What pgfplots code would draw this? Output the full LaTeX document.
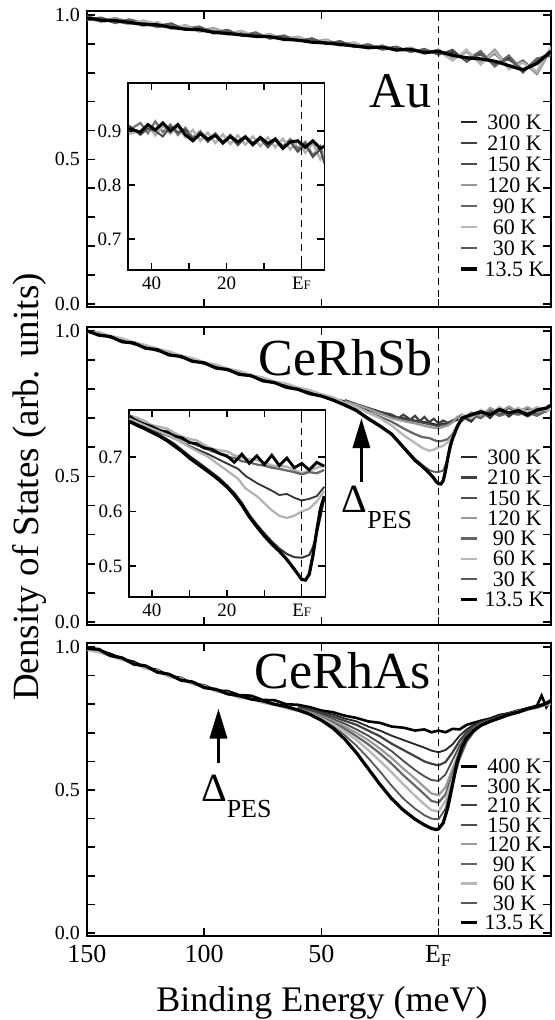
\documentclass[border=0pt]{standalone}
\usepackage{fontspec}
\setmainfont{Liberation Serif}
\usepackage{pgfplots}
\usepackage{pgfplotstable}
\pgfplotsset{compat=1.18}
\usetikzlibrary{arrows.meta}

% Au, main panel: x, 300K 210K 150K 120K 90K 60K 30K 13.5K
\pgfplotstableread{
x a b c d e f g h
150 0.992 0.985 0.996 0.988 0.982 0.994 0.987 0.990
144 0.980 0.991 0.983 0.978 0.989 0.975 0.986 0.982
138 0.986 0.974 0.979 0.990 0.972 0.984 0.976 0.981
132 0.970 0.982 0.968 0.977 0.985 0.969 0.980 0.974
126 0.977 0.965 0.980 0.962 0.973 0.981 0.966 0.968
120 0.960 0.972 0.963 0.975 0.958 0.970 0.962 0.966
114 0.967 0.955 0.971 0.952 0.966 0.958 0.971 0.957
108 0.950 0.962 0.948 0.965 0.953 0.963 0.949 0.951
102 0.957 0.944 0.959 0.946 0.960 0.942 0.955 0.949
96 0.939 0.952 0.941 0.955 0.936 0.950 0.944 0.940
90 0.946 0.933 0.949 0.938 0.947 0.934 0.943 0.936
84 0.930 0.942 0.928 0.944 0.929 0.945 0.932 0.931
78 0.938 0.925 0.936 0.924 0.940 0.927 0.935 0.926
72 0.921 0.933 0.919 0.934 0.918 0.932 0.924 0.925
66 0.928 0.915 0.930 0.917 0.927 0.913 0.925 0.916
60 0.911 0.924 0.909 0.925 0.912 0.923 0.914 0.913
54 0.918 0.905 0.920 0.906 0.917 0.904 0.915 0.906
48 0.901 0.914 0.899 0.915 0.902 0.912 0.905 0.903
42 0.909 0.896 0.910 0.897 0.908 0.894 0.906 0.898
36 0.890 0.903 0.892 0.905 0.889 0.902 0.895 0.893
30 0.898 0.886 0.899 0.884 0.897 0.888 0.893 0.887
24 0.881 0.894 0.883 0.895 0.880 0.893 0.886 0.889
18 0.889 0.877 0.891 0.876 0.888 0.878 0.885 0.879
12 0.873 0.886 0.872 0.887 0.874 0.884 0.878 0.881
6 0.880 0.867 0.883 0.869 0.879 0.866 0.875 0.870
0 0.865 0.880 0.862 0.878 0.868 0.876 0.870 0.874
-6 0.872 0.845 0.880 0.850 0.866 0.842 0.858 0.861
-12 0.840 0.876 0.838 0.872 0.845 0.880 0.850 0.852
-18 0.866 0.832 0.870 0.835 0.875 0.829 0.862 0.848
-24 0.830 0.868 0.828 0.880 0.822 0.872 0.835 0.840
-30 0.852 0.815 0.858 0.818 0.860 0.812 0.845 0.825
-36 0.808 0.842 0.800 0.838 0.805 0.835 0.812 0.810
-42 0.845 0.800 0.850 0.795 0.848 0.805 0.838 0.832
-48 0.870 0.885 0.858 0.880 0.862 0.890 0.866 0.875
}\audata

% Au, inset
\pgfplotstableread{
x g1 g2 g3 k
46 0.902 0.895 0.910 0.905
43 0.915 0.900 0.893 0.898
41 0.896 0.912 0.905 0.912
39 0.918 0.892 0.900 0.902
37 0.898 0.910 0.890 0.915
35 0.912 0.895 0.908 0.900
33 0.893 0.908 0.898 0.912
31 0.906 0.889 0.902 0.893
29 0.888 0.902 0.885 0.882
27 0.900 0.882 0.896 0.895
25 0.884 0.897 0.880 0.885
23 0.896 0.878 0.893 0.892
21 0.880 0.894 0.877 0.878
19 0.893 0.876 0.890 0.890
17 0.878 0.892 0.874 0.880
15 0.891 0.875 0.888 0.889
13 0.876 0.890 0.873 0.876
11 0.889 0.872 0.886 0.888
9 0.874 0.888 0.870 0.877
7 0.887 0.870 0.884 0.885
5 0.872 0.886 0.868 0.868
3 0.885 0.866 0.880 0.880
1 0.868 0.882 0.862 0.882
-1 0.880 0.860 0.876 0.870
-3 0.855 0.878 0.852 0.882
-5 0.872 0.848 0.866 0.868
-6.1 0.845 0.862 0.840 0.872
}\auinset

\tikzset{pesarrow/.style={-{Triangle[length=15pt,width=8.5pt]}, line width=1.8pt}}

\pgfplotsset{
  t400/.style={black, line width=1.3pt},
  t300/.style={black!85, line width=0.9pt},
  t210/.style={black!75, line width=1.1pt},
  t150/.style={black!70, line width=0.9pt},
  t120/.style={black!40, line width=1.1pt},
  t90/.style={black!60, line width=1.1pt},
  t60/.style={black!28, line width=1.2pt},
  t30/.style={black!65, line width=0.9pt},
  t13/.style={black, line width=1.6pt},
  efline/.style={black, line width=0.6pt, dash pattern=on 3.5pt off 2.5pt, forget plot},
  mainax/.style={
    scale only axis, width=232pt,
    xmin=-48, xmax=150, x dir=reverse,
    ymin=-0.01, ymax=1.014,
    xtick={150,100,50,0},
    ytick={0,0.5,1},
    minor ytick={0.1,0.2,0.3,0.4,0.6,0.7,0.8,0.9},
    /pgf/number format/assume math mode=true,
    yticklabel style={/pgf/number format/fixed, /pgf/number format/fixed zerofill,
      /pgf/number format/precision=1, font=\fontsize{10}{10}\selectfont},
    xticklabel style={font=\fontsize{13}{13}\selectfont, yshift=-1.2pt},
    major tick length=4pt, minor tick length=4pt,
    tick style={black, line width=0.8pt},
    axis line style={line width=1pt},
    legend cell align=center,
    legend image code/.code={\draw[##1] (0pt,0pt) -- (8pt,0pt);},
    legend style={draw=none, fill=none, inner sep=0pt, at={(1,0)}, anchor=south east,
      xshift=-2.5pt, font=\fontsize{11}{11}\selectfont,
      nodes={inner sep=0.5pt, text height=7.2pt, text depth=0pt},
      /tikz/every odd column/.append style={column sep=2.5pt}},
  },
  insetax/.style={
    scale only axis, width=98pt, height=93.5pt,
    x dir=reverse, xtick={40,30,20,10,0},
    xticklabels={40,,20,,E{\fontsize{6.5}{6.5}\selectfont F}},
    axis background/.style={fill=white},
    /pgf/number format/assume math mode=true,
    ticklabel style={font=\fontsize{9.5}{9.5}\selectfont},
    yticklabel style={/pgf/number format/fixed, /pgf/number format/fixed zerofill,
      /pgf/number format/precision=1},
    major tick length=3.5pt,
    tick style={black, line width=0.7pt},
    axis line style={line width=0.9pt},
  },
}

\newcommand{\dpes}{{\fontsize{20}{20}\selectfont Δ}{\fontsize{13}{13}\selectfont\raisebox{-8pt}{PES}}}

\begin{document}
\begin{tikzpicture}
\useasboundingbox (-43.5pt,-42pt) rectangle (234pt,468pt);

% ---------------- Au ----------------
\begin{axis}[mainax, height=147.85pt, at={(0pt,314.65pt)}, anchor=south west,
  xticklabels={},
  legend style={yshift=14.5pt, row sep=2.3pt}]
\addplot[t300] table[x=x,y=a]{\audata};
\addplot[t210] table[x=x,y=b]{\audata};
\addplot[t150] table[x=x,y=c]{\audata};
\addplot[t120] table[x=x,y=d]{\audata};
\addplot[t90] table[x=x,y=e]{\audata};
\addplot[t60] table[x=x,y=f]{\audata};
\addplot[t30] table[x=x,y=g]{\audata};
\addplot[t13] table[x=x,y=h]{\audata};
\addplot[efline] coordinates {(0,-0.1) (0,1.1)};
\legend{300 K,210 K,150 K,120 K,90 K,60 K,30 K,13.5 K}
\node[anchor=base east, inner sep=0pt, font=\fontsize{25}{25}\selectfont] at (axis cs:3,0.68) {Au};
\end{axis}

\begin{axis}[insetax, at={(20.7pt,333pt)}, anchor=south west,
  xmin=-6.1, xmax=46.2, ymin=0.643, ymax=0.989, ytick={0.7,0.8,0.9}]
\addplot[black!55, line width=1.1pt] table[x=x,y=g1]{\auinset};
\addplot[black!30, line width=1.2pt] table[x=x,y=g2]{\auinset};
\addplot[black!70, line width=1pt] table[x=x,y=g3]{\auinset};
\addplot[black, line width=1.5pt] table[x=x,y=k]{\auinset};
\addplot[efline] coordinates {(0,0.5) (0,1.1)};
\end{axis}

% ---------------- CeRhSb ----------------
\begin{axis}[mainax, height=149.15pt, at={(0pt,155.5pt)}, anchor=south west,
  xticklabels={},
  legend style={yshift=8.5pt, row sep=1.95pt}]
\addplot[t300] coordinates {(150,0.998)(145,0.992)(140,0.976)(135,0.970)(130,0.953)(125,0.946)(120,0.930)(115,0.924)(110,0.908)(105,0.902)(100,0.886)(95,0.880)(90,0.864)(85,0.858)(80,0.843)(75,0.837)(70,0.821)(65,0.815)(60,0.800)(55,0.792)(50,0.777)(45,0.768)(40,0.758)(35,0.744)(30,0.728)(25,0.718)(20,0.706)(15,0.700)(10,0.692)(7,0.688)(4,0.684)(2,0.680)(0,0.676)(-2,0.682)(-4,0.678)(-6,0.688)(-8,0.694)(-10,0.705)(-14,0.688)(-18,0.725)(-22,0.700)(-26,0.735)(-30,0.705)(-34,0.728)(-38,0.712)(-42,0.730)(-46,0.722)(-48,0.738)};
\addplot[t210] coordinates {(40,0.762)(35,0.748)(30,0.735)(25,0.722)(20,0.712)(17,0.700)(15,0.712)(12,0.695)(10,0.708)(8,0.690)(6,0.704)(4,0.686)(2,0.698)(0,0.682)(-2,0.692)(-4,0.684)(-6,0.692)(-8,0.700)(-10,0.712)(-14,0.696)(-18,0.718)(-22,0.708)(-26,0.724)(-30,0.712)(-34,0.722)(-38,0.706)(-42,0.724)(-46,0.730)(-48,0.742)};
\addplot[t150] coordinates {(40,0.755)(35,0.742)(30,0.730)(25,0.715)(20,0.703)(15,0.696)(10,0.689)(7,0.684)(4,0.679)(2,0.675)(0,0.672)(-2,0.678)(-4,0.675)(-6,0.690)(-8,0.700)(-10,0.690)(-14,0.715)(-18,0.700)(-22,0.728)(-26,0.712)(-30,0.735)(-34,0.715)(-38,0.732)(-42,0.715)(-46,0.735)(-48,0.728)};
\addplot[t120] coordinates {(40,0.758)(35,0.746)(30,0.732)(25,0.716)(20,0.700)(15,0.690)(10,0.682)(7,0.676)(4,0.670)(2,0.667)(0,0.665)(-2,0.670)(-4,0.675)(-6,0.685)(-8,0.705)(-10,0.695)(-14,0.720)(-18,0.705)(-22,0.735)(-26,0.720)(-30,0.740)(-34,0.722)(-38,0.738)(-42,0.720)(-46,0.728)(-48,0.735)};
\addplot[t90] coordinates {(40,0.750)(35,0.737)(30,0.720)(25,0.705)(20,0.688)(15,0.665)(10,0.645)(7,0.635)(4,0.632)(2,0.625)(0,0.620)(-2,0.623)(-4,0.628)(-6,0.645)(-8,0.675)(-10,0.700)(-14,0.712)(-18,0.700)(-22,0.722)(-26,0.708)(-30,0.718)(-34,0.712)(-38,0.720)(-42,0.708)(-46,0.725)(-48,0.732)};
\addplot[t60] coordinates {(150,0.995)(145,0.996)(140,0.982)(135,0.974)(130,0.960)(125,0.951)(120,0.938)(115,0.929)(110,0.915)(105,0.906)(100,0.892)(95,0.884)(90,0.870)(85,0.862)(80,0.848)(75,0.840)(70,0.826)(65,0.819)(60,0.805)(55,0.797)(50,0.782)(45,0.772)(40,0.752)(35,0.738)(30,0.718)(25,0.700)(20,0.675)(15,0.642)(10,0.615)(7,0.598)(4,0.588)(2,0.592)(0,0.600)(-2,0.605)(-4,0.618)(-6,0.638)(-8,0.670)(-10,0.712)(-14,0.700)(-18,0.728)(-22,0.712)(-26,0.738)(-30,0.718)(-34,0.735)(-38,0.720)(-42,0.738)(-46,0.726)(-48,0.732)};
\addplot[t30] coordinates {(40,0.748)(35,0.728)(30,0.702)(25,0.676)(20,0.648)(15,0.604)(10,0.560)(7,0.540)(4,0.522)(2,0.516)(0,0.515)(-2,0.520)(-4,0.560)(-6,0.625)(-8,0.672)(-10,0.700)(-14,0.708)(-18,0.718)(-22,0.710)(-26,0.725)(-30,0.715)(-34,0.722)(-38,0.716)(-42,0.726)(-46,0.732)(-48,0.740)};
\addplot[t13] coordinates {(150,1.000)(145,0.985)(140,0.980)(135,0.962)(130,0.958)(125,0.940)(120,0.935)(115,0.917)(110,0.912)(105,0.895)(100,0.890)(95,0.872)(90,0.867)(85,0.850)(80,0.846)(75,0.828)(70,0.822)(65,0.806)(60,0.799)(55,0.784)(50,0.776)(45,0.762)(40,0.745)(35,0.726)(30,0.698)(25,0.673)(20,0.645)(15,0.600)(10,0.555)(7,0.535)(4,0.512)(2,0.494)(1,0.482)(0,0.475)(-1,0.474)(-2,0.485)(-3,0.520)(-4,0.565)(-5,0.605)(-6,0.630)(-8,0.670)(-10,0.700)(-14,0.712)(-18,0.722)(-22,0.712)(-26,0.730)(-30,0.718)(-34,0.726)(-38,0.712)(-42,0.728)(-46,0.735)(-48,0.745)};
\addplot[efline] coordinates {(0,-0.1) (0,1.1)};
\legend{300 K,210 K,150 K,120 K,90 K,60 K,30 K,13.5 K}
\node[anchor=base east, inner sep=0pt, font=\fontsize{26}{26}\selectfont] at (axis cs:2.5,0.845) {CeRhSb};
\draw[pesarrow] (axis cs:32.9,0.48) -- (axis cs:32.9,0.70);
\node[anchor=base west, inner sep=0pt] at (axis cs:41.5,0.375) {\dpes};
\end{axis}

\begin{axis}[insetax, at={(21.2pt,169.5pt)}, anchor=south west,
  xmin=-6.3, xmax=46, ymin=0.443, ymax=0.786, ytick={0.5,0.6,0.7}]
\addplot[black!30, line width=1.2pt] coordinates {(46,0.776)(44,0.772)(42,0.766)(40,0.758)(38,0.755)(36,0.752)(34,0.744)(32,0.737)(30,0.733)(28,0.730)(26,0.722)(24,0.715)(22,0.712)(20,0.710)(18,0.703)(16,0.698)(14,0.696)(12,0.694)(10,0.690)(8,0.684)(6,0.683)(4,0.682)(2,0.676)(0,0.670)(-2,0.675)(-4,0.680)(-6,0.684)};
\addplot[black!60, line width=1.1pt] coordinates {(46,0.770)(44,0.768)(42,0.760)(40,0.757)(38,0.750)(36,0.744)(34,0.740)(32,0.732)(30,0.728)(28,0.721)(26,0.718)(24,0.710)(22,0.707)(20,0.700)(18,0.698)(16,0.692)(14,0.690)(12,0.686)(10,0.684)(8,0.680)(6,0.678)(4,0.675)(2,0.672)(0,0.668)(-2,0.672)(-4,0.670)(-6,0.676)};
\addplot[black, line width=1.4pt] coordinates {(46,0.775)(44,0.765)(42,0.760)(40,0.755)(38,0.748)(36,0.746)(34,0.738)(32,0.735)(30,0.726)(28,0.724)(26,0.716)(24,0.714)(22,0.706)(20,0.702)(18,0.690)(16,0.705)(14,0.688)(12,0.702)(10,0.686)(8,0.703)(6,0.684)(4,0.698)(2,0.680)(0,0.688)(-2,0.676)(-4,0.690)(-6,0.683)};
\addplot[black!80, line width=0.9pt] coordinates {(46,0.768)(40,0.750)(35,0.737)(30,0.720)(25,0.705)(20,0.688)(17,0.678)(15,0.665)(12,0.652)(10,0.645)(8,0.638)(6,0.630)(4,0.632)(2,0.625)(0,0.620)(-2,0.623)(-4,0.628)(-6,0.645)};
\addplot[black!30, line width=1.1pt] coordinates {(46,0.770)(40,0.752)(35,0.738)(30,0.718)(25,0.700)(20,0.675)(17,0.660)(15,0.642)(12,0.628)(10,0.615)(8,0.602)(6,0.592)(4,0.588)(2,0.592)(0,0.600)(-2,0.605)(-4,0.618)(-6,0.638)};
\addplot[black!80, line width=1pt] coordinates {(46,0.766)(42,0.754)(38,0.741)(34,0.724)(30,0.702)(26,0.682)(22,0.661)(20,0.648)(18,0.634)(16,0.616)(14,0.594)(12,0.576)(10,0.560)(8,0.545)(6,0.532)(4,0.522)(2,0.516)(0,0.515)(-2,0.520)(-3,0.535)(-4,0.560)(-5,0.590)(-6,0.625)};
\addplot[black, line width=1.6pt] coordinates {(46,0.765)(44,0.758)(42,0.752)(40,0.745)(38,0.738)(36,0.730)(34,0.720)(32,0.710)(30,0.698)(28,0.688)(26,0.678)(24,0.668)(22,0.657)(20,0.645)(18,0.630)(16,0.612)(14,0.590)(12,0.572)(10,0.555)(8,0.540)(6,0.527)(4,0.512)(2,0.494)(0,0.475)(-1,0.474)(-2,0.485)(-3,0.520)(-4,0.565)(-5,0.605)(-6,0.628)};
\addplot[efline] coordinates {(0,0.3) (0,0.9)};
\end{axis}

% ---------------- CeRhAs ----------------
\begin{axis}[mainax, height=146.5pt, at={(0pt,0pt)}, anchor=south west,
  xticklabels={150,100,50,E\textsubscript{F}},
  legend style={yshift=2.5pt, row sep=1.55pt}]
\addplot[t400] coordinates {(150,1.000)(145,0.988)(140,0.976)(135,0.958)(130,0.948)(125,0.928)(120,0.920)(115,0.899)(110,0.892)(105,0.872)(100,0.866)(95,0.848)(90,0.846)(85,0.832)(80,0.830)(75,0.815)(70,0.814)(65,0.800)(60,0.798)(55,0.790)(50,0.778)(45,0.772)(40,0.760)(35,0.752)(30,0.740)(25,0.735)(20,0.722)(15,0.718)(10,0.708)(6,0.712)(3,0.702)(0,0.708)(-3,0.702)(-6,0.714)(-9,0.712)(-12,0.728)(-15,0.735)(-18,0.742)(-22,0.750)(-26,0.762)(-30,0.768)(-34,0.778)(-38,0.785)(-42,0.795)(-44,0.830)(-46,0.790)(-48,0.815)};
\addplot[t300] coordinates {(60,0.792)(55,0.784)(50,0.772)(45,0.764)(40,0.750)(35,0.740)(30,0.722)(25,0.708)(20,0.690)(15,0.675)(10,0.660)(6,0.648)(3,0.638)(0,0.632)(-3,0.640)(-6,0.660)(-9,0.690)(-12,0.712)(-15,0.728)(-18,0.738)(-22,0.748)(-26,0.760)(-30,0.770)(-34,0.775)(-38,0.788)(-42,0.792)(-45,0.802)(-48,0.808)};
\addplot[t210] coordinates {(60,0.788)(55,0.780)(50,0.768)(45,0.756)(40,0.742)(35,0.728)(30,0.708)(25,0.688)(20,0.662)(15,0.640)(10,0.618)(6,0.600)(3,0.592)(0,0.586)(-3,0.598)(-6,0.632)(-9,0.672)(-12,0.702)(-15,0.722)(-18,0.736)(-22,0.745)(-26,0.758)(-30,0.765)(-34,0.778)(-38,0.782)(-42,0.795)(-45,0.798)(-48,0.805)};
\addplot[t150] coordinates {(60,0.785)(55,0.775)(50,0.762)(45,0.748)(40,0.732)(35,0.712)(30,0.690)(25,0.664)(20,0.636)(15,0.602)(10,0.570)(6,0.548)(3,0.535)(0,0.532)(-3,0.555)(-6,0.605)(-9,0.655)(-12,0.695)(-15,0.718)(-18,0.732)(-22,0.744)(-26,0.755)(-30,0.768)(-34,0.772)(-38,0.785)(-42,0.790)(-45,0.800)(-48,0.805)};
\addplot[t120] coordinates {(60,0.782)(55,0.772)(50,0.758)(45,0.742)(40,0.722)(35,0.700)(30,0.675)(25,0.645)(20,0.612)(15,0.575)(10,0.540)(6,0.510)(3,0.488)(0,0.482)(-3,0.510)(-6,0.575)(-9,0.638)(-12,0.685)(-15,0.712)(-18,0.730)(-22,0.742)(-26,0.752)(-30,0.765)(-34,0.775)(-38,0.780)(-42,0.792)(-45,0.796)(-48,0.806)};
\addplot[t90] coordinates {(60,0.780)(55,0.770)(50,0.754)(45,0.736)(40,0.714)(35,0.688)(30,0.660)(25,0.628)(20,0.592)(15,0.552)(10,0.515)(6,0.485)(3,0.462)(0,0.456)(-3,0.485)(-6,0.555)(-9,0.625)(-12,0.678)(-15,0.708)(-18,0.728)(-22,0.740)(-26,0.750)(-30,0.762)(-34,0.772)(-38,0.782)(-42,0.788)(-45,0.798)(-48,0.804)};
\addplot[t60] coordinates {(150,0.990)(145,0.982)(140,0.968)(135,0.955)(130,0.943)(125,0.925)(120,0.918)(115,0.895)(110,0.890)(105,0.870)(100,0.864)(95,0.845)(90,0.840)(85,0.822)(80,0.820)(75,0.805)(70,0.798)(65,0.786)(60,0.776)(55,0.768)(50,0.750)(45,0.730)(40,0.704)(35,0.675)(30,0.640)(25,0.602)(20,0.562)(15,0.520)(10,0.480)(6,0.450)(3,0.430)(0,0.425)(-3,0.462)(-6,0.540)(-9,0.615)(-12,0.672)(-15,0.705)(-18,0.725)(-22,0.740)(-26,0.752)(-30,0.760)(-34,0.774)(-38,0.780)(-42,0.790)(-45,0.795)(-48,0.802)};
\addplot[t30] coordinates {(60,0.778)(55,0.766)(50,0.746)(45,0.722)(40,0.692)(35,0.655)(30,0.612)(25,0.565)(20,0.515)(15,0.470)(10,0.435)(6,0.412)(3,0.400)(0,0.398)(-3,0.435)(-6,0.525)(-9,0.608)(-12,0.668)(-15,0.702)(-18,0.724)(-22,0.738)(-26,0.750)(-30,0.762)(-34,0.770)(-38,0.782)(-42,0.788)(-45,0.796)(-48,0.806)};
\addplot[t13] coordinates {(150,0.995)(145,0.992)(140,0.970)(135,0.962)(130,0.940)(125,0.934)(120,0.912)(115,0.905)(110,0.884)(105,0.878)(100,0.858)(95,0.852)(90,0.836)(85,0.830)(80,0.818)(75,0.812)(70,0.800)(65,0.792)(60,0.780)(55,0.765)(50,0.744)(45,0.716)(40,0.678)(35,0.630)(30,0.575)(25,0.520)(20,0.470)(15,0.430)(10,0.398)(6,0.378)(3,0.366)(1,0.362)(0,0.364)(-2,0.385)(-4,0.440)(-6,0.520)(-8,0.600)(-10,0.650)(-12,0.682)(-15,0.708)(-18,0.726)(-22,0.740)(-26,0.752)(-30,0.764)(-34,0.772)(-38,0.784)(-42,0.792)(-45,0.800)(-48,0.812)};
\addplot[efline] coordinates {(0,-0.1) (0,1.1)};
\legend{400 K,300 K,210 K,150 K,120 K,90 K,60 K,30 K,13.5 K}
\node[anchor=base east, inner sep=0pt, font=\fontsize{26}{26}\selectfont] at (axis cs:3,0.855) {CeRhAs};
\draw[pesarrow] (axis cs:93.9,0.595) -- (axis cs:93.9,0.785);
\node[anchor=base west, inner sep=0pt] at (axis cs:101.5,0.46) {\dpes};
\end{axis}

\node[rotate=90, font=\fontsize{18.5}{18.5}\selectfont] at (-29pt,224.5pt) {Density of States (arb. units)};
\node[font=\fontsize{18}{18}\selectfont] at (117.5pt,-33.5pt) {Binding Energy (meV)};
\end{tikzpicture}
\end{document}
